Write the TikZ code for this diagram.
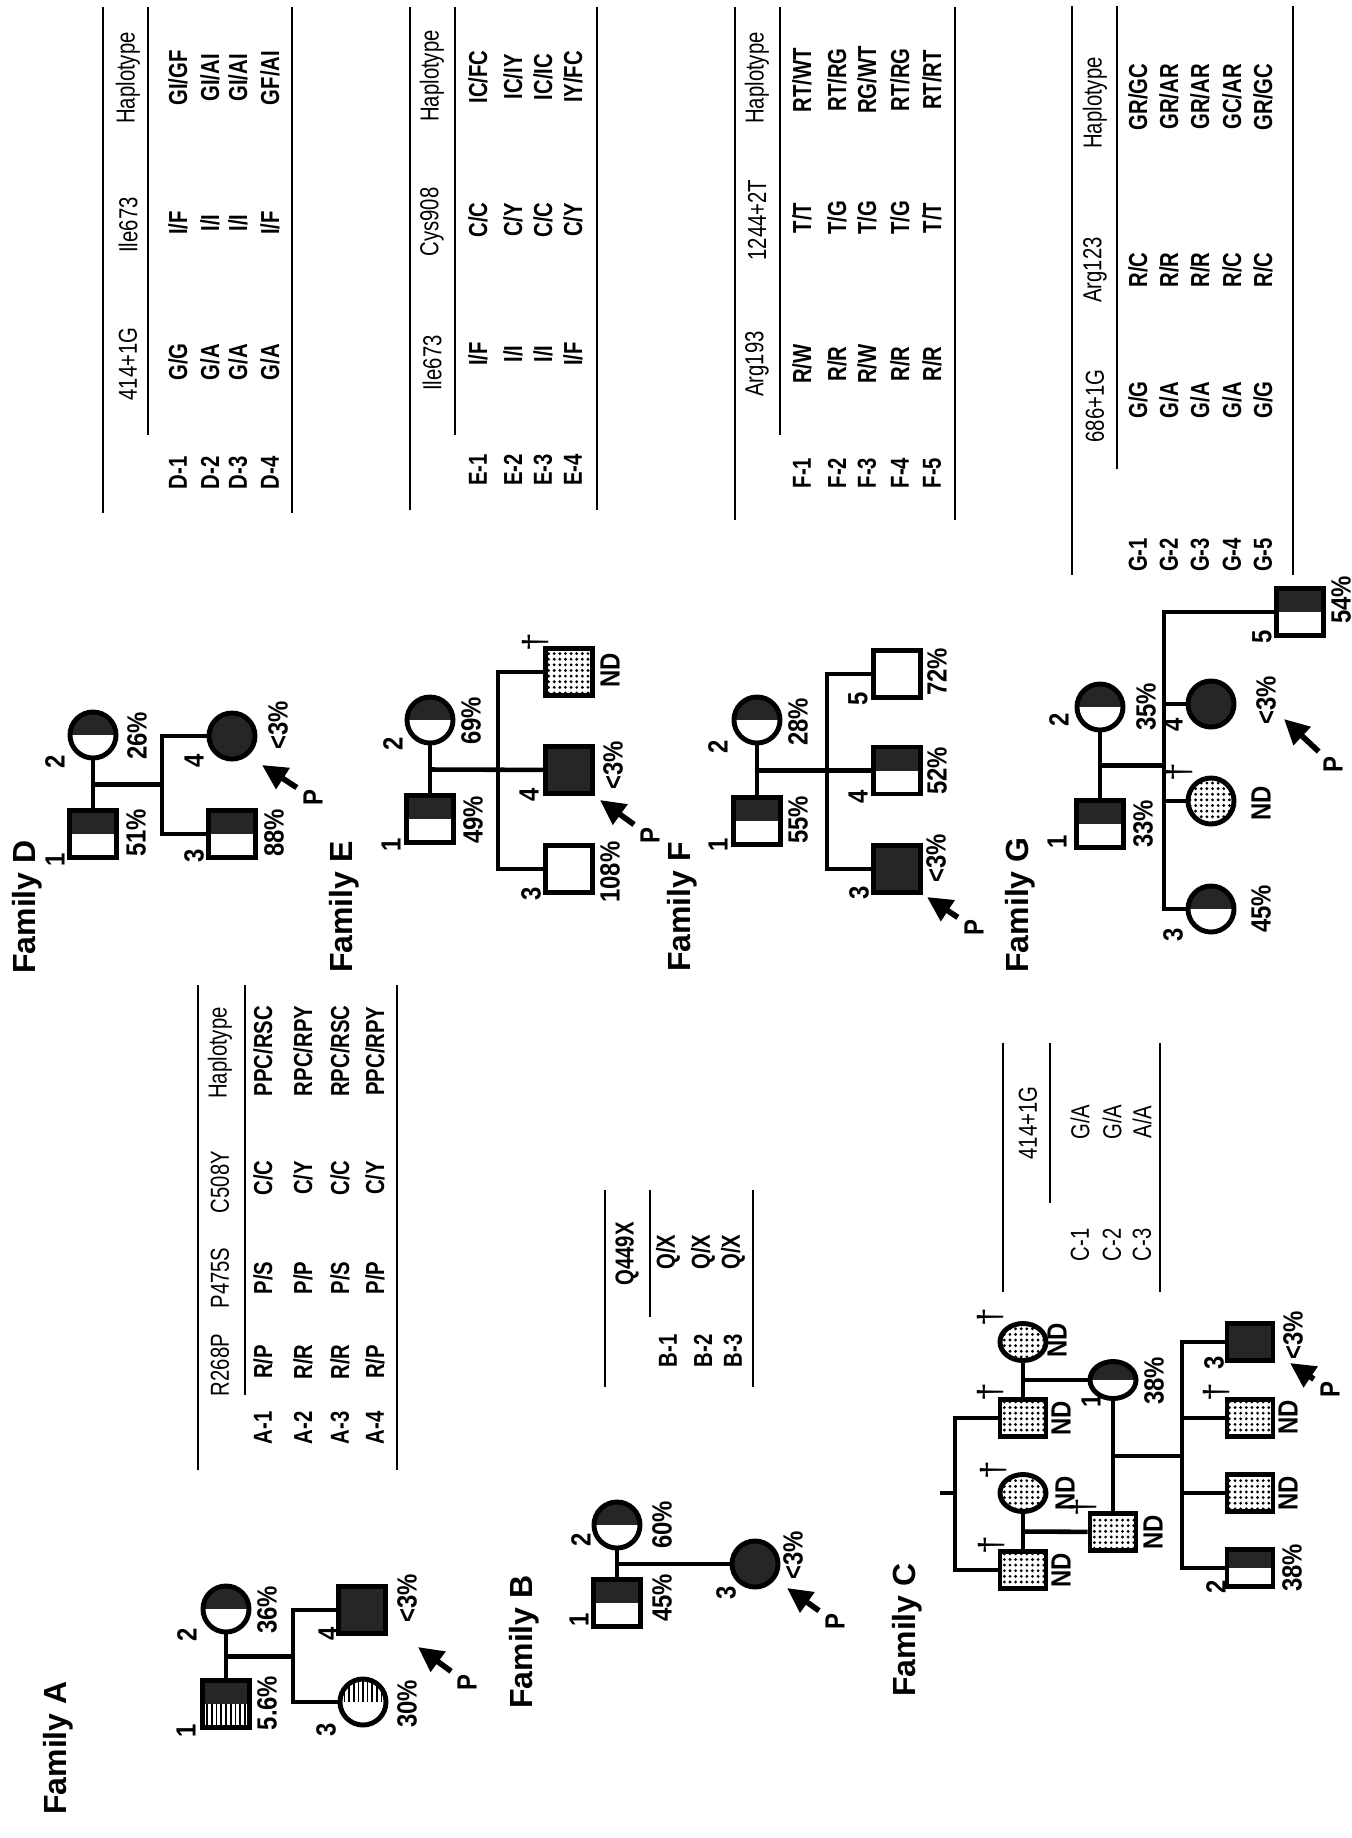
\documentclass[tikz,border=0pt]{standalone}
\usepackage{fontspec}
\setmainfont{Liberation Sans}
\newfontfamily\pedfont{Liberation Sans}[FakeStretch=0.86]
\newfontfamily\tabfont{Liberation Sans}[FakeStretch=0.78]
\usetikzlibrary{arrows.meta,shapes.geometric,patterns,calc}
\definecolor{darkfill}{RGB}{38,38,38}
\pgfdeclarepatternformonly{stipple}{\pgfqpoint{-0.1pt}{-0.1pt}}{\pgfqpoint{1.7pt}{1.7pt}}{\pgfqpoint{1.6pt}{1.6pt}}%
  {\pgfpathcircle{\pgfqpoint{0.8pt}{0.8pt}}{0.45pt}\pgfusepath{fill}}
\newcommand{\geno}[2]{#1/#2}

\begin{document}
\begin{tikzpicture}[
  x=0.01cm, y=-0.01cm,
  ped/.style={line width=1.3pt},
  rule/.style={line width=0.8pt},
  subrule/.style={line width=0.6pt},
  male/.style={draw, line width=1.4pt, rectangle, minimum width=0.47cm, minimum height=0.47cm, inner sep=0pt},
  female/.style={draw, line width=1.4pt, ellipse, minimum width=0.46cm, minimum height=0.46cm, inner sep=0pt},
  flat/.style={minimum width=0.46cm, minimum height=0.37cm},
  het/.style={path picture={\fill[darkfill] (path picture bounding box.north west) rectangle (path picture bounding box.east);}},
  aff/.style={fill=darkfill},
  nd/.style={pattern=stipple},
  barstop/.style={path picture={
    \foreach \k in {1,...,9}
      \draw[line width=0.5pt] ($(path picture bounding box.north west)!\k/10!(path picture bounding box.north east)$)
        -- ($(path picture bounding box.west)!\k/10!(path picture bounding box.east)$);}},
  mixed/.style={path picture={
    \fill[darkfill] (path picture bounding box.north west) rectangle (path picture bounding box.east);
    \foreach \k in {1,...,9}
      \draw[line width=0.5pt] ($(path picture bounding box.south west)!\k/10!(path picture bounding box.south east)$)
        -- ($(path picture bounding box.west)!\k/10!(path picture bounding box.east)$);}},
  fam/.style={rotate=90, inner sep=0pt, font=\bfseries\fontsize{9.1}{11}\selectfont},
  lab/.style={rotate=90, inner sep=0pt, font=\pedfont\bfseries\fontsize{7.9}{9}\selectfont},
  blab/.style={rotate=90, inner sep=0pt, font=\pedfont\bfseries\fontsize{7.9}{9}\selectfont},
  dagger/.style={rotate=90, inner sep=0pt, font=\fontsize{9.5}{10}\selectfont},
  proband/.style={line width=1.6pt, -{Triangle[length=0.25cm, width=0.24cm]}, shorten <=2pt},
  hd/.style={rotate=90, inner sep=0pt, font=\tabfont\fontsize{7.4}{8}\selectfont},
  cell/.style={rotate=90, inner sep=0pt, font=\tabfont\bfseries\fontsize{7.4}{8}\selectfont}
]
\useasboundingbox (0,0) rectangle (1352,1838);

% ---------------- Family A
\node[fam] (famA) at (58,1748) {Family A};
\node[male, mixed] (a1) at (226,1704) {};
\node[female, het] (a2) at (226,1609) {};
\node[female, barstop] (a3) at (363,1702) {};
\node[male, aff] (a4) at (362,1610) {};
\node[lab] (a1n) at (186,1731) {1};
\node[lab] (a2n) at (187,1635) {2};
\node[lab] (a3n) at (326,1730) {3};
\node[lab] (a4n) at (328,1634) {4};
\node[lab] (a1p) at (267,1703) {5.6\%};
\node[lab] (a2p) at (267,1610) {36\%};
\node[lab] (a3p) at (407,1704) {30\%};
\node[lab] (a4p) at (407,1598) {<3\%};
\node[blab] (aP) at (467,1683) {P};
\coordinate (aT) at (418,1647);
\coordinate (aS) at (293,1656.5);
\draw[ped] (a1) -- (a2);
\draw[ped] ($(a1)!0.5!(a2)$) -- (aS);
\draw[ped] (a4) -| (aS);
\draw[ped] (a3) -| (aS);
\draw[proband] (aP) -- (aT);

\draw[rule] (198,985) -- (198,1470);
\draw[subrule] (245,985) -- (245,1395);
\draw[rule] (397,985) -- (397,1470);
\node[hd] (hA1) at (220,1365) {R268P};
\node[hd] (hA2) at (220,1278) {P475S};
\node[hd] (hA3) at (220,1182) {C508Y};
\node[hd] (hA4) at (220,1053) {Haplotype};
\foreach \x/\id/\a/\b/\c/\h [count=\r] in {263/A-1/\geno RP/\geno PS/\geno CC/\geno{PPC}{RSC},
    303/A-2/\geno RR/\geno PP/\geno CY/\geno{RPC}{RPY}, 340/A-3/\geno RR/\geno PS/\geno CC/\geno{RPC}{RSC},
    375/A-4/\geno RP/\geno PP/\geno CY/\geno{PPC}{RPY}}{
  \node[cell] (A\r) at (\x,1428) {\id};
  \node[cell] (A\r-a) at (\x,1362) {\a};
  \node[cell] (A\r-b) at (\x,1278) {\b};
  \node[cell] (A\r-c) at (\x,1178) {\c};
  \node[cell] (A\r-h) at (\x,1051) {\h};
}

% ---------------- Family B
\node[fam] (famB) at (524,1642) {Family B};
\node[male, het] (b1) at (617,1603) {};
\node[female, het] (b2) at (617,1525) {};
\node[female, aff] (b3) at (755,1564) {};
\node[lab] (b1n) at (579,1620) {1};
\node[lab] (b2n) at (581,1540) {2};
\node[lab] (b3n) at (726,1593) {3};
\node[lab] (b1p) at (662,1598) {45\%};
\node[lab] (b2p) at (662,1525) {60\%};
\node[lab] (b3p) at (793,1555) {<3\%};
\node[blab] (bP) at (835,1622) {P};
\coordinate (bT) at (787,1588);
\draw[ped] (b1) -- (b2);
\draw[ped] ($(b1)!0.5!(b2)$) -- (b3);
\draw[proband] (bP) -- (bT);

\draw[rule] (605,1190) -- (605,1387);
\draw[subrule] (650,1190) -- (650,1317);
\draw[rule] (753,1190) -- (753,1387);
\node[cell] (hB1) at (627,1254) {Q449X};
\foreach \x/\id/\a [count=\r] in {668/B-1/\geno QX, 703/B-2/\geno QX, 733/B-3/\geno QX}{
  \node[cell] (B\r) at (\x,1351) {\id};
  \node[cell] (B\r-a) at (\x,1252) {\a};
}

% ---------------- Family C
\node[fam] (famC) at (907,1630) {Family C};
\node[male, flat, nd] (c1) at (1023,1570) {};
\node[female, flat, nd] (c2) at (1023,1493) {};
\node[male, flat, nd] (c3) at (1023,1418) {};
\node[female, flat, nd] (c4) at (1023,1342) {};
\node[male, flat, nd] (c5) at (1113,1532) {};
\node[female, flat, het] (c6) at (1113,1380) {};
\node[male, flat, het] (c7) at (1250,1568) {};
\node[male, flat, nd] (c8) at (1250,1493) {};
\node[male, flat, nd] (c9) at (1250,1418) {};
\node[male, flat, aff] (c10) at (1250,1342) {};
\foreach \n/\x/\y in {c1/992/1545, c2/994/1470, c3/991/1392, c4/991/1317, c5/1084/1507, c9/1217/1392}
  \node[dagger] (\n d) at (\x,\y) {†};
\foreach \n/\x/\y in {c1/1061/1570, c2/1065/1493, c3/1061/1418, c4/1057/1340, c5/1153/1532, c8/1288/1493, c9/1288/1417}
  \node[blab] (\n nd) at (\x,\y) {ND};
\node[lab] (c6n) at (1091,1401) {1};
\node[lab] (c6p) at (1154,1381) {38\%};
\node[lab] (c7n) at (1216,1587) {2};
\node[lab] (c7p) at (1292,1568) {38\%};
\node[lab] (c10n) at (1214,1363) {3};
\node[lab] (c10p) at (1293,1335) {<3\%};
\node[blab] (cP) at (1330,1390) {P};
\coordinate (cT) at (1290,1363);
\coordinate (cG) at (955,1493);
\coordinate (cU) at (940,1493);
\coordinate (cS) at (1182,1456);
\draw[ped] (cU) -- (cG);
\draw[ped] (c1) -| (cG);
\draw[ped] (c3) -| (cG);
\draw[ped] (c1) -- (c2);
\draw[ped] ($(c1)!0.5!(c2)$) -- (c5);
\draw[ped] (c3) -- (c4);
\draw[ped] ($(c3)!0.5!(c4)$) -- (c6);
\draw[ped] (c5) -- (c6);
\draw[ped] ($(c5)!0.5!(c6)$) -- (cS);
\foreach \n in {c7,c8,c9,c10}
  \draw[ped] (\n) -| (cS);
\draw[proband] (cP) -- (cT);

\draw[rule] (1003,1043) -- (1003,1292);
\draw[subrule] (1050,1043) -- (1050,1203);
\draw[rule] (1160,1043) -- (1160,1292);
\node[hd] (hC1) at (1028,1123) {414+1G};
\foreach \x/\id/\a [count=\r] in {1080/C-1/\geno GA, 1112/C-2/\geno GA, 1142/C-3/\geno AA}{
  \node[hd] (C\r) at (\x,1245) {\id};
  \node[hd] (C\r-a) at (\x,1122) {\a};
}

% ---------------- Family D
\node[fam] (famD) at (27,907) {Family D};
\node[male, het] (d1) at (93,834) {};
\node[female, het] (d2) at (93,735) {};
\node[male, het] (d3) at (232,834) {};
\node[female, aff] (d4) at (232,736) {};
\node[lab] (d1n) at (55,860) {1};
\node[lab] (d2n) at (55,762) {2};
\node[lab] (d3n) at (194,856) {3};
\node[lab] (d4n) at (194,761) {4};
\node[lab] (d1p) at (136,833) {51\%};
\node[lab] (d2p) at (137,736) {26\%};
\node[lab] (d3p) at (274,833) {88\%};
\node[lab] (d4p) at (278,725) {<3\%};
\node[blab] (dP) at (313,798) {P};
\coordinate (dT) at (262,765);
\coordinate (dS) at (162,784.5);
\draw[ped] (d1) -- (d2);
\draw[ped] ($(d1)!0.5!(d2)$) -- (dS);
\draw[ped] (d3) -| (dS);
\draw[ped] (d4) -| (dS);
\draw[proband] (dP) -- (dT);

\draw[rule] (103,7) -- (103,513);
\draw[subrule] (148,7) -- (148,435);
\draw[rule] (292,7) -- (292,513);
\node[hd] (hD1) at (128,364) {414+1G};
\node[hd] (hD2) at (128,225) {Ile673};
\node[hd] (hD3) at (128,78) {Haplotype};
\foreach \x/\id/\a/\b/\h [count=\r] in {178/D-1/\geno GG/\geno IF/\geno{GI}{GF},
    210/D-2/\geno GA/\geno II/\geno{GI}{AI}, 238/D-3/\geno GA/\geno II/\geno{GI}{AI},
    270/D-4/\geno GA/\geno IF/\geno{GF}{AI}}{
  \node[cell] (D\r) at (\x,473) {\id};
  \node[cell] (D\r-a) at (\x,362) {\a};
  \node[cell] (D\r-b) at (\x,223) {\b};
  \node[cell] (D\r-h) at (\x,78) {\h};
}

% ---------------- Family E
\node[fam] (famE) at (344,907) {Family E};
\node[male, het] (e1) at (430,819) {};
\node[female, het] (e2) at (430,720) {};
\node[male] (e3) at (569,869) {};
\node[male, aff] (e4) at (569,770) {};
\node[male, nd] (e5) at (569,672) {};
\node[lab] (e1n) at (391,845) {1};
\node[lab] (e2n) at (393,744) {2};
\node[lab] (e3n) at (531,894) {3};
\node[lab] (e4n) at (529,795) {4};
\node[lab] (e1p) at (473,820) {49\%};
\node[lab] (e2p) at (471,721) {69\%};
\node[lab] (e3p) at (610,872) {108\%};
\node[lab] (e4p) at (613,765) {<3\%};
\node[blab] (e5nd) at (610,670) {ND};
\node[dagger] (e5d) at (536,642) {†};
\node[blab] (eP) at (650,836) {P};
\coordinate (eT) at (600,800);
\coordinate (eS3) at (498,869);
\coordinate (eS5) at (498,672);
\draw[ped] (e1) -- (e2);
\draw[ped] ($(e1)!0.5!(e2)$) -- (e4);
\draw[ped] (e5) -- (eS5) -- (eS3) -- (e3);
\draw[proband] (eP) -- (eT);

\draw[rule] (410,7) -- (410,510);
\draw[subrule] (455,7) -- (455,435);
\draw[rule] (597,7) -- (597,510);
\node[hd] (hE1) at (432,363) {Ile673};
\node[hd] (hE2) at (432,222) {Cys908};
\node[hd] (hE3) at (432,76) {Haplotype};
\foreach \x/\id/\a/\b/\h [count=\r] in {478/E-1/\geno IF/\geno CC/\geno{IC}{FC},
    513/E-2/\geno II/\geno CY/\geno{IC}{IY}, 543/E-3/\geno II/\geno CC/\geno{IC}{IC},
    573/E-4/\geno IF/\geno CY/\geno{IY}{FC}}{
  \node[cell] (E\r) at (\x,470) {\id};
  \node[cell] (E\r-a) at (\x,354) {\a};
  \node[cell] (E\r-b) at (\x,220) {\b};
  \node[cell] (E\r-h) at (\x,77) {\h};
}

% ---------------- Family F
\node[fam] (famF) at (682,907) {Family F};
\node[male, het] (f1) at (757,821) {};
\node[female, het] (f2) at (757,720) {};
\node[male, aff] (f3) at (897,869) {};
\node[male, het] (f4) at (897,770.5) {};
\node[male] (f5) at (897,674) {};
\node[lab] (f1n) at (718,845) {1};
\node[lab] (f2n) at (718,747) {2};
\node[lab] (f3n) at (859,893) {3};
\node[lab] (f4n) at (858,797) {4};
\node[lab] (f5n) at (858,699) {5};
\node[lab] (f1p) at (798,820) {55\%};
\node[lab] (f2p) at (798,722) {28\%};
\node[lab] (f3p) at (936,858) {<3\%};
\node[lab] (f4p) at (937,771) {52\%};
\node[lab] (f5p) at (937,672) {72\%};
\node[blab] (fP) at (974,928) {P};
\coordinate (fT) at (927,897);
\coordinate (fS3) at (827,869);
\coordinate (fS5) at (827,674);
\draw[ped] (f1) -- (f2);
\draw[ped] ($(f1)!0.5!(f2)$) -- (f4);
\draw[ped] (f5) -- (fS5) -- (fS3) -- (f3);
\draw[proband] (fP) -- (fT);

\draw[rule] (735,7) -- (735,520);
\draw[subrule] (780,7) -- (780,435);
\draw[rule] (955,7) -- (955,520);
\node[hd] (hF1) at (757,364) {Arg193};
\node[hd] (hF2) at (757,220) {1244+2T};
\node[hd] (hF3) at (757,78) {Haplotype};
\foreach \x/\id/\a/\b/\h [count=\r] in {802/F-1/\geno RW/\geno TT/\geno{RT}{WT},
    837/F-2/\geno RR/\geno TG/\geno{RT}{RG}, 867/F-3/\geno RW/\geno TG/\geno{RG}{WT},
    900/F-4/\geno RR/\geno TG/\geno{RT}{RG}, 932/F-5/\geno RR/\geno TT/\geno{RT}{RT}}{
  \node[cell] (F\r) at (\x,473) {\id};
  \node[cell] (F\r-a) at (\x,364) {\a};
  \node[cell] (F\r-b) at (\x,218) {\b};
  \node[cell] (F\r-h) at (\x,80) {\h};
}

% ---------------- Family G
\node[fam] (famG) at (1020,905) {Family G};
\node[male, het] (g1) at (1100,824) {};
\node[female, het] (g2) at (1100,707) {};
\node[female, het] (g3) at (1211,909) {};
\node[female, nd] (g4) at (1211,801) {};
\node[female, aff] (g5) at (1211,704) {};
\node[male, het] (g6) at (1300,612) {};
\node[lab] (g1n) at (1057,842) {1};
\node[lab] (g2n) at (1059,720) {2};
\node[lab] (g3n) at (1173,935) {3};
\node[lab] (g5n) at (1173,725) {4};
\node[lab] (g6n) at (1262,637) {5};
\node[lab] (g1p) at (1143,824) {33\%};
\node[lab] (g2p) at (1146,707) {35\%};
\node[lab] (g3p) at (1261,909) {45\%};
\node[blab] (g4nd) at (1261,803) {ND};
\node[dagger] (g4d) at (1180,772) {†};
\node[lab] (g5p) at (1266,700) {<3\%};
\node[lab] (g6p) at (1341,600) {54\%};
\node[blab] (gP) at (1333,765) {P};
\coordinate (gT) at (1284,719);
\coordinate (gS) at (1164,765.5);
\draw[ped] (g1) -- (g2);
\draw[ped] ($(g1)!0.5!(g2)$) -- (gS);
\foreach \n in {g3,g4,g5,g6}
  \draw[ped] (\n) -| (gS);
\draw[proband] (gP) -- (gT);

\draw[rule] (1072,6) -- (1072,575);
\draw[subrule] (1117,6) -- (1117,469);
\draw[rule] (1293,6) -- (1293,575);
\node[hd] (hG1) at (1095,406) {686+1G};
\node[hd] (hG2) at (1095,270) {Arg123};
\node[hd] (hG3) at (1095,103) {Haplotype};
\foreach \x/\id/\a/\b/\h [count=\r] in {1138/G-1/\geno GG/\geno RC/\geno{GR}{GC},
    1169/G-2/\geno GA/\geno RR/\geno{GR}{AR}, 1200/G-3/\geno GA/\geno RR/\geno{GR}{AR},
    1232/G-4/\geno GA/\geno RC/\geno{GC}{AR}, 1263/G-5/\geno GG/\geno RC/\geno{GR}{GC}}{
  \node[cell] (G\r) at (\x,555) {\id};
  \node[cell] (G\r-a) at (\x,400) {\a};
  \node[cell] (G\r-b) at (\x,270) {\b};
  \node[cell] (G\r-h) at (\x,97) {\h};
}
\end{tikzpicture}
\end{document}
